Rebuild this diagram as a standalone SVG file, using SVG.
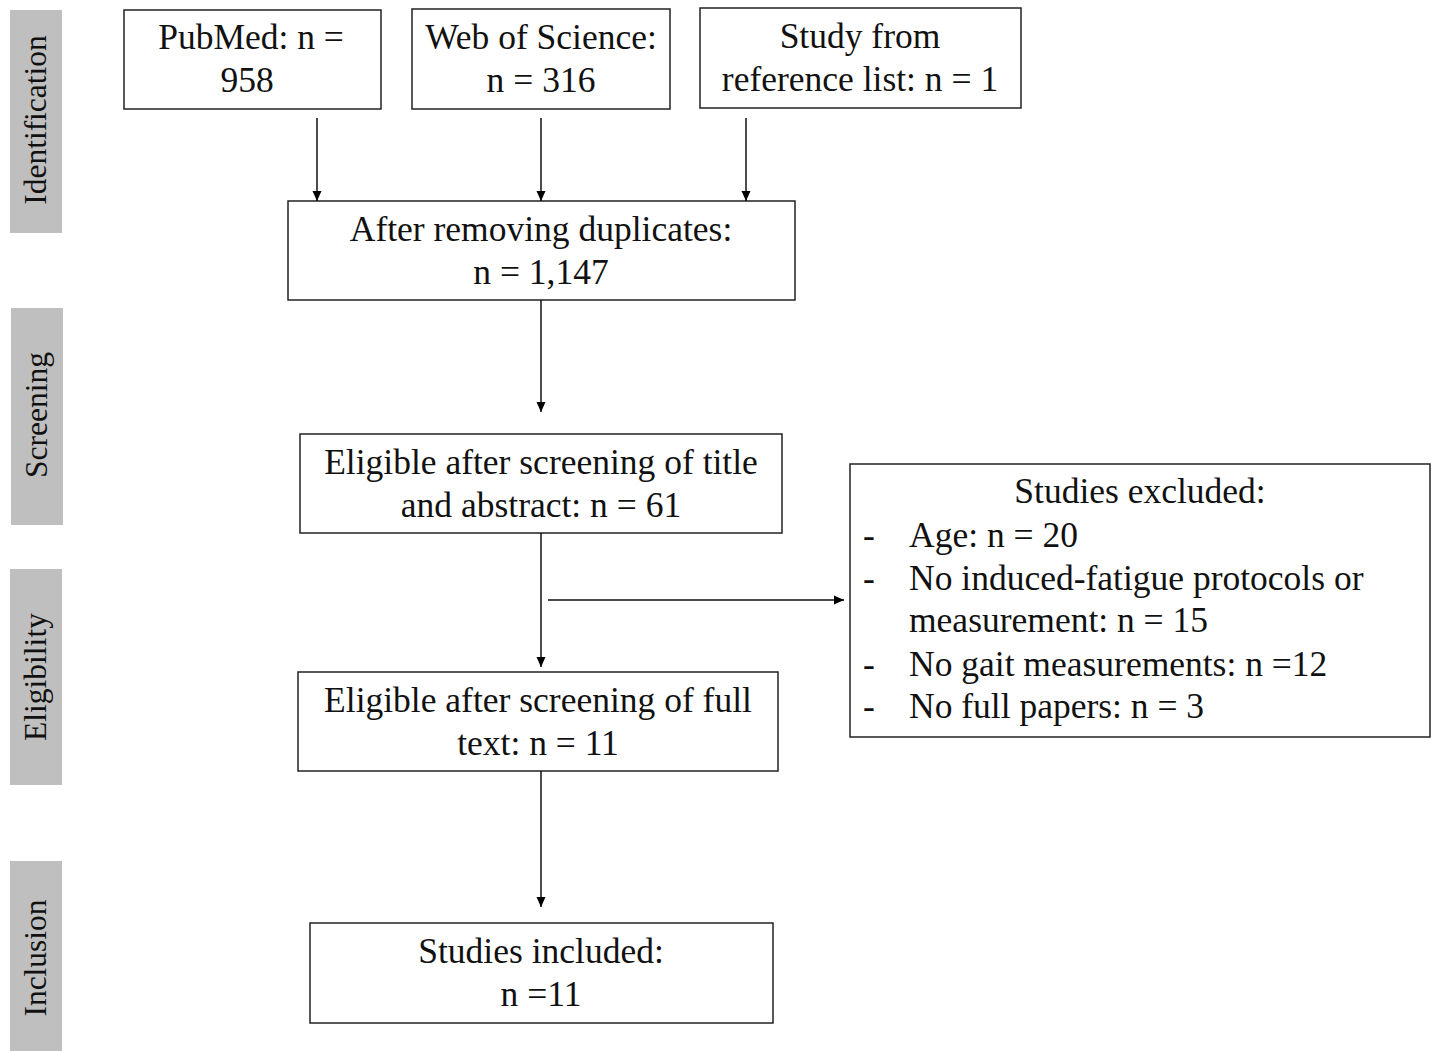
<svg xmlns="http://www.w3.org/2000/svg" width="1432" height="1051" viewBox="0 0 1432 1051">
<defs>
<marker id="ah" markerWidth="12" markerHeight="12" refX="10" refY="5.5" orient="auto" markerUnits="userSpaceOnUse">
<path d="M0,1 L10,5.5 L0,10 Z" fill="#000"/>
</marker>
<style>
.box{fill:#fff;stroke:#222;stroke-width:1.5}
.side{fill:#bfbfbf}
.t{font-family:"Liberation Serif","Times New Roman",serif;font-size:35.5px;fill:#111}
.c{text-anchor:middle}
.s{font-family:"Liberation Serif","Times New Roman",serif;font-size:31.5px;fill:#111;text-anchor:middle}
.ln{stroke:#111;stroke-width:1.5;fill:none;marker-end:url(#ah)}
</style>
</defs>
<rect width="1432" height="1051" fill="#fff"/>
<g id="stage-identification"><rect class="side" x="10" y="10" width="52" height="223"/><text class="s" transform="translate(46,120) rotate(-90)">Identification</text></g>
<g id="stage-screening"><rect class="side" x="11" y="308" width="52" height="217"/><text class="s" transform="translate(47,415) rotate(-90)">Screening</text></g>
<g id="stage-eligibility"><rect class="side" x="10" y="569" width="52" height="216"/><text class="s" transform="translate(46,677) rotate(-90)">Eligibility</text></g>
<g id="stage-inclusion"><rect class="side" x="10" y="861" width="52" height="190"/><text class="s" transform="translate(46,958) rotate(-90)">Inclusion</text></g>

<g id="pubmed"><rect class="box" x="124" y="10" width="257" height="99"/><text class="t c" x="251" y="49">PubMed: n =</text><text class="t c" x="247" y="92">958</text></g>
<g id="wos"><rect class="box" x="412" y="9" width="258" height="100"/><text class="t c" x="541" y="49">Web of Science:</text><text class="t c" x="541" y="92">n = 316</text></g>
<g id="reflist"><rect class="box" x="700" y="8" width="321" height="100"/><text class="t c" x="860" y="48">Study from</text><text class="t c" x="860" y="91">reference list: n = 1</text></g>
<g id="dedup"><rect class="box" x="288" y="201" width="507" height="99"/><text class="t c" x="541" y="241">After removing  duplicates:</text><text class="t c" x="541" y="284">n = 1,147</text></g>
<g id="title-abstract"><rect class="box" x="300" y="434" width="482" height="99"/><text class="t c" x="541" y="474">Eligible after screening of title</text><text class="t c" x="541" y="517">and abstract: n = 61</text></g>
<g id="excluded"><rect class="box" x="850" y="464" width="580" height="273"/>
<text class="t c" x="1140" y="503">Studies excluded:</text>
<text class="t" x="863" y="547">-</text><text class="t" x="909" y="547">Age:  n = 20</text>
<text class="t" x="863" y="590">-</text><text class="t" x="909" y="590">No induced-fatigue protocols or</text>
<text class="t" x="909" y="632">measurement: n = 15</text>
<text class="t" x="863" y="676">-</text><text class="t" x="909" y="676">No gait measurements: n =12</text>
<text class="t" x="863" y="718">-</text><text class="t" x="909" y="718">No full papers: n = 3</text>
</g>
<g id="full-text"><rect class="box" x="298" y="672" width="480" height="99"/><text class="t c" x="538" y="712">Eligible after screening of full</text><text class="t c" x="538" y="755">text: n = 11</text></g>
<g id="included"><rect class="box" x="310" y="923" width="463" height="100"/><text class="t c" x="541" y="963">Studies included:</text><text class="t c" x="541" y="1006">n =11</text></g>

<g id="connectors">
<line class="ln" x1="317" y1="118" x2="317" y2="201"/>
<line class="ln" x1="541" y1="118" x2="541" y2="201"/>
<line class="ln" x1="746" y1="118" x2="746" y2="201"/>
<line class="ln" x1="541" y1="300" x2="541" y2="412"/>
<line class="ln" x1="541" y1="533" x2="541" y2="667"/>
<line class="ln" x1="548" y1="600" x2="844" y2="600"/>
<line class="ln" x1="541" y1="771" x2="541" y2="907"/>
</g>
</svg>
